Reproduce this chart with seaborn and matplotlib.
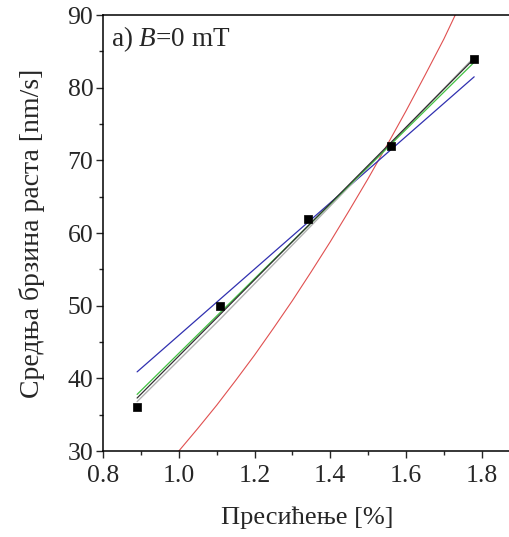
import matplotlib
matplotlib.use("Agg")
import matplotlib.pyplot as plt
import seaborn as sns
import pandas as pd

# measured data
supersat = [0.89, 1.11, 1.34, 1.56, 1.78]
growth = [36, 50, 62, 72, 84]

# fitted curves
fit_x = [0.89, 1.78]
blue_y = [40.9, 81.5]
black_y = [37.3, 84.0]
green_y = [37.8, 83.5]
grey_x = [0.89, 1.11, 1.34, 1.56, 1.78]
grey_y = [36.8, 48.2, 60.5, 72.3, 84.2]
red_x = [1.0, 1.05, 1.1, 1.15, 1.2, 1.25, 1.3, 1.35, 1.4, 1.45, 1.5,
         1.55, 1.6, 1.65, 1.7, 1.73]
red_y = [30.0, 33.1, 36.3, 39.7, 43.2, 46.9, 50.7, 54.7, 58.8, 63.1, 67.5,
         72.1, 76.8, 81.7, 86.7, 90.0]

sns.set_theme(style="ticks")
plt.rcParams['font.family'] = ['Liberation Serif', 'DejaVu Serif']
plt.rcParams['mathtext.fontset'] = 'custom'
plt.rcParams['mathtext.it'] = 'Liberation Serif:italic'
plt.rcParams['mathtext.rm'] = 'Liberation Serif'

fig = plt.figure(figsize=(5.10, 5.37), dpi=100)
ax = fig.add_axes([0.202, 0.160, 0.802, 0.812])

sns.lineplot(x=red_x, y=red_y, ax=ax, color="#e05050", lw=0.8)
sns.lineplot(x=fit_x, y=blue_y, ax=ax, color="#3030b0", lw=0.9)
sns.lineplot(x=grey_x, y=grey_y, ax=ax, color="#b0b0b0", lw=1.0)
sns.lineplot(x=fit_x, y=green_y, ax=ax, color="#40c040", lw=0.9)
sns.lineplot(x=fit_x, y=black_y, ax=ax, color="#303030", lw=0.9)
sns.scatterplot(x=supersat, y=growth, ax=ax, marker="s", color="black", s=40,
                edgecolor="black", zorder=5)

ax.set_xlim(0.8, 1.88)
ax.set_ylim(30, 90)
ax.set_xticks([0.8, 1.0, 1.2, 1.4, 1.6, 1.8])
ax.set_xticklabels(["0.8", "1.0", "1.2", "1.4", "1.6", "1.8"])
ax.set_yticks([30, 40, 50, 60, 70, 80, 90])
ax.set_xticks([0.9, 1.1, 1.3, 1.5, 1.7], minor=True)
ax.set_yticks([35, 45, 55, 65, 75, 85], minor=True)
ax.tick_params(which="major", direction="out", length=5, width=1, labelsize=18.5)
ax.tick_params(axis="x", which="major", pad=5)
ax.tick_params(axis="y", which="major", pad=2)
ax.tick_params(which="minor", direction="out", length=3, width=1)
for s in ax.spines.values():
    s.set_visible(True)
    s.set_linewidth(1.1)
    s.set_color("black")
ax.spines["right"].set_visible(False)

ax.set_xlabel("Пресићење [%]", fontsize=19, labelpad=14)
ax.set_ylabel("Средња брзина раста [nm/s]", fontsize=20, labelpad=16)
ax.text(0.02, 0.98, "a) $B$=0 mT", transform=ax.transAxes, fontsize=19.5,
        ha="left", va="top")

fig.savefig("out.png", dpi=100)
